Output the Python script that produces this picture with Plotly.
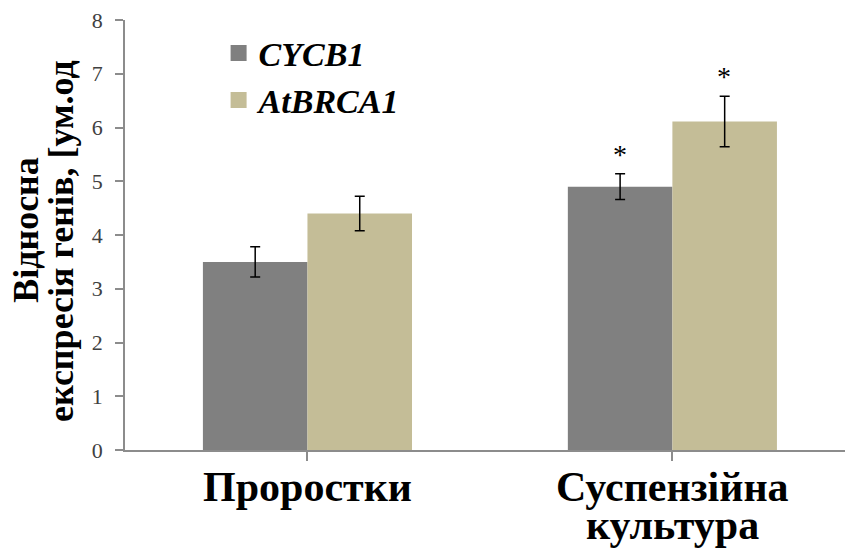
import plotly.graph_objects as go

# Relative gene expression, two tissue types
categories = ["Проростки", "Суспензійна<br>культура"]
series_names = ["CYCB1", "AtBRCA1"]
cycb1 = [3.50, 4.90]
cycb1_err = [0.28, 0.24]
atbrca1 = [4.40, 6.11]
atbrca1_err = [0.32, 0.47]
cycb1_sig = ["", "*"]
atbrca1_sig = ["", "*"]
y_ticks = [0, 1, 2, 3, 4, 5, 6, 7, 8]
y_title = "Відносна<br>експресія генів, [ум.од"

colors = ["#808080", "#C4BD97"]
serif = "Liberation Serif"

fig = go.Figure()
x_idx = list(range(len(categories)))

for name, vals, errs, col in [
    (series_names[0], cycb1, cycb1_err, colors[0]),
    (series_names[1], atbrca1, atbrca1_err, colors[1]),
]:
    fig.add_trace(go.Bar(
        x=x_idx, y=vals, name=name, marker=dict(color=col, line=dict(width=0)),
        error_y=dict(type="data", array=errs, color="black", thickness=1.5, width=5),
        showlegend=False,
    ))
    # square legend swatch
    fig.add_trace(go.Scatter(
        x=[None], y=[None], mode="markers", name=name,
        marker=dict(symbol="square", size=16, color=col),
    ))

# significance marks above the error bars
bar_shift = 52
for sig, vals, errs, shift in [
    (cycb1_sig, cycb1, cycb1_err, -bar_shift),
    (atbrca1_sig, atbrca1, atbrca1_err, bar_shift),
]:
    for i, s in enumerate(sig):
        if s:
            fig.add_annotation(
                x=x_idx[i], y=vals[i] + errs[i], text=s, showarrow=False,
                xshift=shift, yanchor="bottom", yshift=2,
                font=dict(family=serif, size=28, color="black"),
            )

# category labels under the axis, with tight line spacing
label_size = 42
line_step = 38
for i, cat in enumerate(categories):
    for j, line in enumerate(cat.split("<br>")):
        fig.add_annotation(
            x=x_idx[i], xref="x", y=0, yref="paper", text="<b>%s</b>" % line,
            showarrow=False, yanchor="top", yshift=-12 - j * line_step,
            font=dict(family=serif, size=label_size, color="black"),
        )

# rotated y-axis title, one annotation per line
title_x = [-0.1375, -0.089]
title_y = [0.512, 0.486]
for k, line in enumerate(y_title.split("<br>")):
    fig.add_annotation(
        x=title_x[k], xref="paper", y=title_y[k], yref="paper", text="<b>%s</b>" % line,
        showarrow=False, textangle=-90, xanchor="center", yanchor="middle",
        font=dict(family=serif, size=36, color="black"),
    )

fig.update_layout(
    width=845, height=551,
    margin=dict(l=125, r=0, t=20, b=101),
    paper_bgcolor="white", plot_bgcolor="white",
    barmode="group", bargap=0.427, bargroupgap=0,
    font=dict(family=serif, color="black"),
    legend=dict(
        x=0.13, y=0.99, xanchor="left", yanchor="top",
        font=dict(family=serif, size=34, color="black", weight="bold", style="italic"),
        bgcolor="rgba(0,0,0,0)", itemwidth=30, tracegroupgap=0,
    ),
    xaxis=dict(
        tickmode="array", tickvals=x_idx, showticklabels=False, automargin=False,
        range=[-0.5, 1.473], showline=True, linecolor="#8C8C8C", linewidth=1.5,
        ticks="outside", tickson="boundaries", ticklen=9, tickcolor="#8C8C8C", tickwidth=1.5,
        showgrid=False, zeroline=False,
    ),
    yaxis=dict(
        range=[0, 8], tickvals=y_ticks, showline=True, linecolor="#8C8C8C", linewidth=1.5,
        ticks="outside", ticklen=8, tickcolor="#8C8C8C", tickwidth=1.5,
        tickfont=dict(family=serif, size=22, color="#404040"), ticklabelstandoff=8,
        showgrid=False, zeroline=False, automargin=False,
    ),
)

fig.write_html("out.html")
